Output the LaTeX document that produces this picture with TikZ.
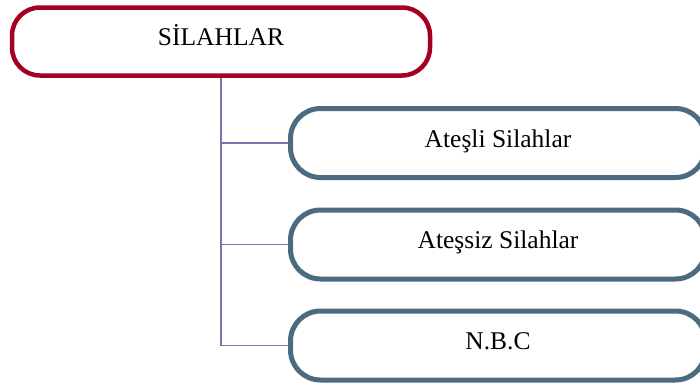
\documentclass[tikz,border=0pt]{standalone}
\usepackage{fontspec}
\setmainfont{Liberation Serif}
\definecolor{rootred}{HTML}{A50021}
\definecolor{leafblue}{HTML}{4A6B80}
\definecolor{linkviolet}{HTML}{7C73AE}
\begin{document}
\begin{tikzpicture}[x=1pt,y=-1pt,
  boxtext/.style={font=\fontsize{25.5}{30}\selectfont, text height=18pt, text depth=10pt, inner sep=0pt},
  rootbox/.style={boxtext, draw=rootred, line width=4.5pt, rounded corners=28pt,
    minimum width=418pt, minimum height=68pt, fill=white},
  leafbox/.style={boxtext, draw=leafblue, line width=5pt, rounded corners=30pt,
    minimum width=415pt, minimum height=69pt, fill=white},
  link/.style={draw=linkviolet, line width=1.5pt}]
  \clip (0,0) rectangle (700,383);
  \fill[white] (0,0) rectangle (700,383);
  % root and the three categories
  \node[rootbox] (root) at (221,41.5) {SİLAHLAR};
  \node[leafbox] (c1) at (498,143) {Ateşli Silahlar};
  \node[leafbox] (c2) at (498,244.5) {Ateşsiz Silahlar};
  \node[leafbox] (c3) at (498,345.5) {N.B.C};
  % tree connectors
  \coordinate (j1) at (root.south |- c1.west);
  \coordinate (j2) at (root.south |- c2.west);
  \coordinate (j3) at (root.south |- c3.west);
  \draw[link] (root.south) -- (j3) -- (c3.west);
  \draw[link] (j1) -- (c1.west);
  \draw[link] (j2) -- (c2.west);
\end{tikzpicture}
\end{document}
